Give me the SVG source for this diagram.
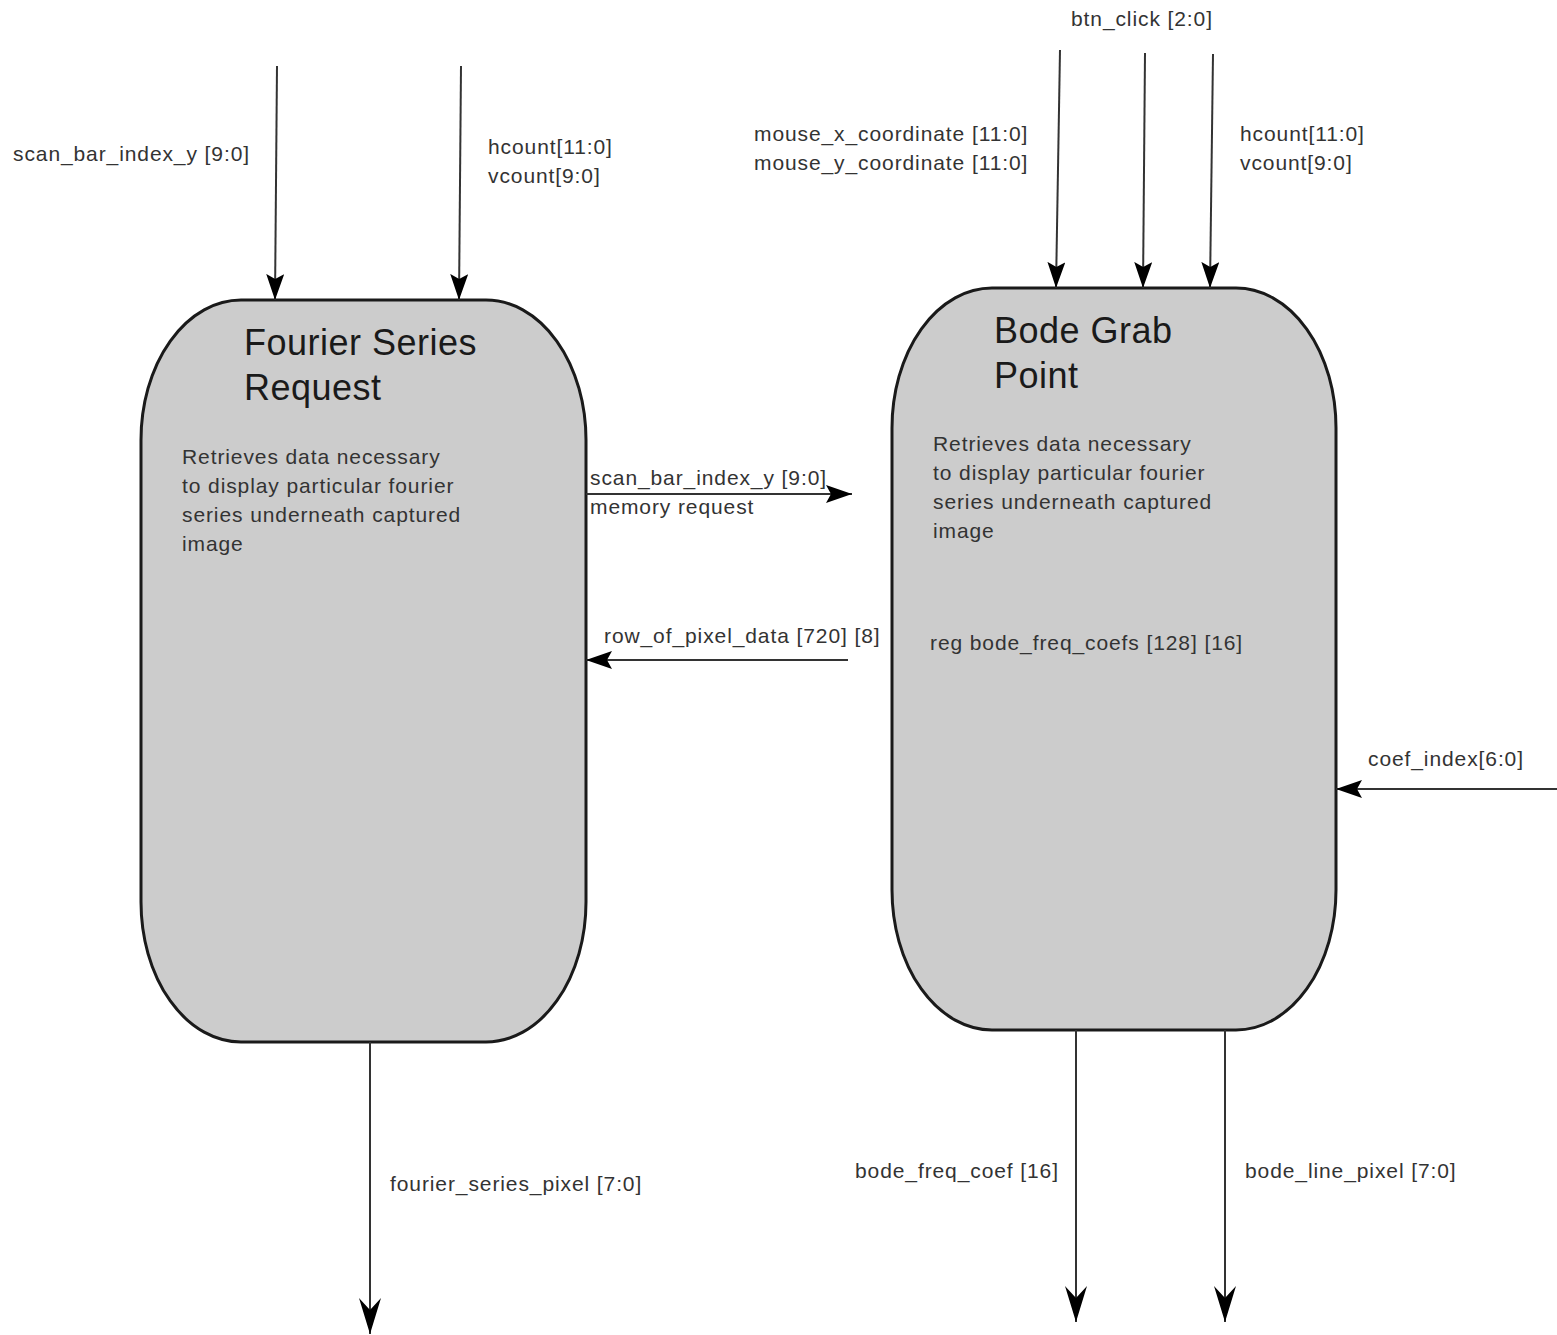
<svg xmlns="http://www.w3.org/2000/svg" width="1557" height="1335" viewBox="0 0 1557 1335">
<defs>
<style>
.node{fill:#cccccc;stroke:#1a1a1a;stroke-width:3}
.title{font-family:"Liberation Sans",Arial,sans-serif;font-size:36px;fill:#1a1a1a;letter-spacing:0.5px}
.body{font-family:"Liberation Sans",Arial,sans-serif;font-size:21px;fill:#333;letter-spacing:0.9px}
.lbl{font-family:"Liberation Sans",Arial,sans-serif;font-size:21px;fill:#333;letter-spacing:0.9px}
.wire{stroke:#333;stroke-width:2;fill:none}
.a1{marker-end:url(#arr)}
.a2{marker-end:url(#arrBig)}
</style>
<marker id="arr" viewBox="0 0 26 18" refX="26" refY="9" markerWidth="26" markerHeight="18" markerUnits="userSpaceOnUse" orient="auto">
<path d="M0,0 L26,9 L0,18 L5,9 Z" fill="#000"/>
</marker>
<marker id="arrBig" viewBox="0 0 36 22" refX="36" refY="11" markerWidth="36" markerHeight="22" markerUnits="userSpaceOnUse" orient="auto">
<path d="M0,0 L36,11 L0,22 L12,11 Z" fill="#000"/>
</marker>
</defs>
<rect width="1557" height="1335" fill="#fff"/>

<g id="fourier-series-request">
<rect class="node" x="141" y="300" width="445" height="742" rx="100" ry="140"/>
<text class="title" x="244" y="355">Fourier Series</text>
<text class="title" x="244" y="400">Request</text>
<text class="body" x="182" y="464">Retrieves data necessary</text>
<text class="body" x="182" y="493">to display particular fourier</text>
<text class="body" x="182" y="522">series underneath captured</text>
<text class="body" x="182" y="551">image</text>
</g>

<g id="bode-grab-point">
<rect class="node" x="892" y="288" width="444" height="742" rx="100" ry="140"/>
<text class="title" x="994" y="343">Bode Grab</text>
<text class="title" x="994" y="388">Point</text>
<text class="body" x="933" y="451">Retrieves data necessary</text>
<text class="body" x="933" y="480">to display particular fourier</text>
<text class="body" x="933" y="509">series underneath captured</text>
<text class="body" x="933" y="538">image</text>
<text class="body" x="930" y="650">reg bode_freq_coefs [128] [16]</text>
</g>

<g id="connectors">
<line class="wire a1" x1="277" y1="66" x2="275" y2="300"/>
<line class="wire a1" x1="461" y1="66" x2="459" y2="300"/>
<line class="wire a1" x1="1060" y1="50" x2="1056" y2="288"/>
<line class="wire a1" x1="1145" y1="53" x2="1143" y2="288"/>
<line class="wire a1" x1="1213" y1="54" x2="1210" y2="288"/>
<line class="wire a1" x1="586" y1="494" x2="852" y2="494"/>
<line class="wire a1" x1="848" y1="660" x2="586" y2="660"/>
<line class="wire a1" x1="1557" y1="789" x2="1336" y2="789"/>
<line class="wire a2" x1="370" y1="1042" x2="370" y2="1334"/>
<line class="wire a2" x1="1076" y1="1030" x2="1076" y2="1322"/>
<line class="wire a2" x1="1225" y1="1030" x2="1225" y2="1322"/>
</g>

<g id="labels">
<text class="lbl" x="13" y="161">scan_bar_index_y [9:0]</text>
<text class="lbl" x="488" y="154">hcount[11:0]</text>
<text class="lbl" x="488" y="183">vcount[9:0]</text>
<text class="lbl" x="1071" y="26">btn_click [2:0]</text>
<text class="lbl" x="754" y="141">mouse_x_coordinate [11:0]</text>
<text class="lbl" x="754" y="170">mouse_y_coordinate [11:0]</text>
<text class="lbl" x="1240" y="141">hcount[11:0]</text>
<text class="lbl" x="1240" y="170">vcount[9:0]</text>
<text class="lbl" x="590" y="485">scan_bar_index_y [9:0]</text>
<text class="lbl" x="590" y="514">memory request</text>
<text class="lbl" x="604" y="643">row_of_pixel_data [720] [8]</text>
<text class="lbl" x="1368" y="766">coef_index[6:0]</text>
<text class="lbl" x="390" y="1191">fourier_series_pixel [7:0]</text>
<text class="lbl" x="855" y="1178">bode_freq_coef [16]</text>
<text class="lbl" x="1245" y="1178">bode_line_pixel [7:0]</text>
</g>
</svg>
